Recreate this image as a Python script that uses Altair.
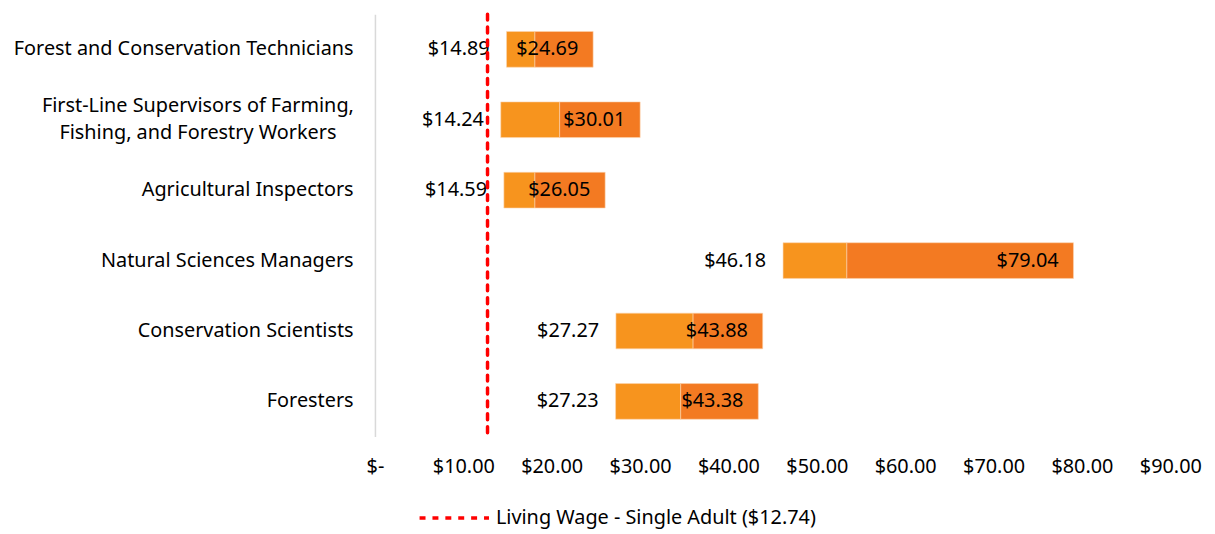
import altair as alt
import pandas as pd

categories = [
    "Forest and Conservation Technicians",
    "First-Line Supervisors of Farming,|Fishing, and Forestry Workers",
    "Agricultural Inspectors",
    "Natural Sciences Managers",
    "Conservation Scientists",
    "Foresters",
]
low_wage = [14.89, 14.24, 14.59, 46.18, 27.27, 27.23]
median_wage = [18.1, 20.9, 18.1, 53.4, 36.0, 34.6]
high_wage = [24.69, 30.01, 26.05, 79.04, 43.88, 43.38]
living_wage = [12.74]
living_label = ["Living Wage - Single Adult ($12.74)"]
x_ticks = [0, 10, 20, 30, 40, 50, 60, 70, 80, 90]

FONT = "Noto Sans"
FS = 20
LIGHT = "#F7941E"
DARK = "#F37A22"

df = pd.DataFrame({
    "occ": categories,
    "low": low_wage,
    "med": median_wage,
    "high": high_wage,
})
df["low_lbl"] = ["$%.2f" % v for v in low_wage]
df["high_lbl"] = ["$%.2f" % v for v in high_wage]

lw = pd.DataFrame({"wage": living_wage, "label": living_label})

multi = "datum.value == '" + categories[1] + "'"

y_enc = alt.Y(
    "occ:N",
    sort=categories,
    title=None,
    scale=alt.Scale(paddingInner=0, paddingOuter=0),
    axis=alt.Axis(
        labelExpr="split(datum.label, '|')",
        labelFont=FONT,
        labelFontSize=FS,
        labelColor="#000000",
        labelLineHeight=27,
        labelLimit=500,
        labelAlign={"condition": {"test": multi, "value": "center"}, "value": "right"},
        labelPadding={"condition": {"test": multi, "value": 179}, "value": 22},
        labelOffset={"condition": {"test": multi, "value": -13.5}, "value": 0},
        ticks=False,
        domainColor="#D9D9D9",
        domainWidth=1.5,
    ),
)

x_scale = alt.Scale(domain=[0, 90], nice=False)

base = alt.Chart(df)

bar_low = base.mark_bar(size=36, color=LIGHT, stroke="#FBD5B0", strokeWidth=0.6).encode(
    y=y_enc,
    x=alt.X(
        "low:Q",
        scale=x_scale,
        title=None,
        axis=alt.Axis(
            values=x_ticks,
            labelExpr="datum.value == 0 ? '$-' : '$' + format(datum.value, '.2f')",
            labelFont=FONT,
            labelFontSize=FS,
            labelColor="#000000",
            labelPadding=20,
            labelFlush=False,
            labelOverlap=False,
            domain=False,
            ticks=False,
            grid=False,
        ),
    ),
    x2="med:Q",
)

bar_high = base.mark_bar(size=36, color=DARK, stroke="#FBD5B0", strokeWidth=0.6).encode(
    y=alt.Y("occ:N", sort=categories),
    x=alt.X("med:Q", scale=x_scale),
    x2="high:Q",
)

txt_low = base.mark_text(align="right", baseline="middle", dx=-17, font=FONT, fontSize=FS, color="#000000").encode(
    y=alt.Y("occ:N", sort=categories),
    x=alt.X("low:Q", scale=x_scale),
    text="low_lbl:N",
)

txt_high = base.mark_text(align="right", baseline="middle", dx=-15, font=FONT, fontSize=FS, color="#000000").encode(
    y=alt.Y("occ:N", sort=categories),
    x=alt.X("high:Q", scale=x_scale),
    text="high_lbl:N",
)

rule = alt.Chart(lw).mark_rule(strokeWidth=3.5, strokeDash=[6, 7], strokeCap="round").encode(
    x=alt.X("wage:Q", scale=x_scale),
    stroke=alt.Stroke(
        "label:N",
        scale=alt.Scale(range=["#FF0000"]),
        legend=alt.Legend(
            title=None,
            orient="none",
            legendX=70,
            legendY=498,
            symbolType="M-5,0L5,0",
            symbolSize=196,
            symbolStrokeWidth=3.5,
            symbolDash=[6, 7],
            symbolStrokeColor="#FF0000",
            labelFont=FONT,
            labelFontSize=FS,
            labelColor="#000000",
            labelOffset=32,
            labelLimit=600,
            padding=0,
        ),
    ),
)

chart = alt.layer(bar_low, bar_high, txt_low, txt_high, rule).properties(
    width=802,
    height=426,
    padding={"left": 5, "top": 2, "right": 5, "bottom": 2},
    background="white",
).configure_view(stroke=None)

chart.save("out.html", embed_options={"renderer": "svg", "actions": False})
